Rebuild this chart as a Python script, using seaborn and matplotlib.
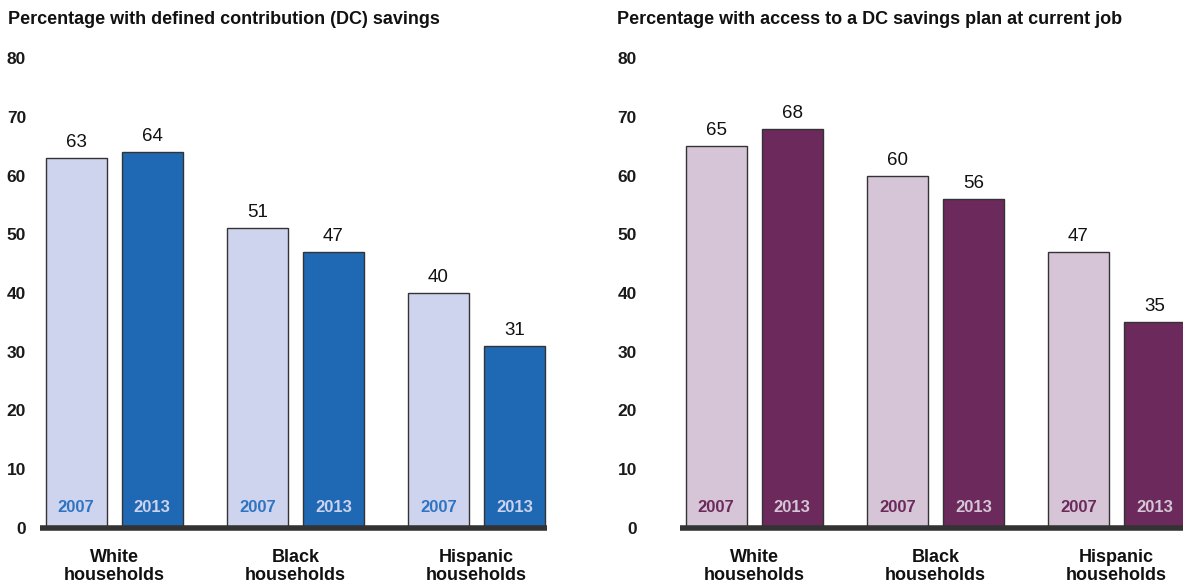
import matplotlib
matplotlib.use("Agg")
import matplotlib.pyplot as plt
import seaborn as sns
import pandas as pd

groups = ["White\nhouseholds", "Black\nhouseholds", "Hispanic\nhouseholds"]
years = ["2007", "2013"]
dc_savings_2007 = [63, 51, 40]
dc_savings_2013 = [64, 47, 31]
dc_access_2007 = [65, 60, 47]
dc_access_2013 = [68, 56, 35]

titles = ["Percentage with defined contribution (DC) savings",
          "Percentage with access to a DC savings plan at current job"]
yticks = [0, 10, 20, 30, 40, 50, 60, 70, 80]


def long_frame(v2007, v2013):
    rows = []
    for g, a, b in zip(groups, v2007, v2013):
        rows.append({"group": g, "year": "2007", "value": a})
        rows.append({"group": g, "year": "2013", "value": b})
    return pd.DataFrame(rows)


sns.set_theme(style="white")
plt.rcParams["font.family"] = ["Liberation Sans", "DejaVu Sans"]

fig = plt.figure(figsize=(11.83, 5.84), dpi=100)

panels = [
    dict(df=long_frame(dc_savings_2007, dc_savings_2013),
         rect=[40 / 1183, 56 / 584, 507 / 1183, 470 / 584],
         palette=["#CFD4EE", "#1F69B4"],
         year_colors=["#2E74C2", "#CDD2EE"],
         tick_pad=10, title_x=8 / 1183),
    dict(df=long_frame(dc_access_2007, dc_access_2013),
         rect=[680 / 1183, 56 / 584, 507 / 1183, 470 / 584],
         palette=["#D6C5D6", "#6B2A5B"],
         year_colors=["#6B2A5B", "#D6C5D6"],
         tick_pad=31, title_x=617 / 1183),
]

for p, title in zip(panels, titles):
    ax = fig.add_axes(p["rect"])
    sns.barplot(data=p["df"], x="group", y="value", hue="year",
                hue_order=years, palette=p["palette"], width=0.84, gap=0.2,
                edgecolor="#333333", linewidth=1.0, saturation=1,
                legend=False, ax=ax)
    ax.set_xlim(-0.41, 2.39)
    ax.set_ylim(0, 80)
    ax.set_yticks(yticks)
    ax.set_yticklabels([str(t) for t in yticks], fontsize=12.5,
                       fontweight="bold", color="#1a1a1a")
    ax.tick_params(axis="y", length=0, pad=p["tick_pad"])
    ax.tick_params(axis="x", length=0, pad=15)
    for lbl in ax.get_xticklabels():
        lbl.set_fontweight("bold")
        lbl.set_fontsize(13)
        lbl.set_color("#111111")
        lbl.set_linespacing(1.1)
    ax.set_xlabel("")
    ax.set_ylabel("")
    for s in ax.spines.values():
        s.set_visible(False)
    ax.axhline(0, color="#333333", linewidth=4, zorder=5, clip_on=False,
               solid_capstyle="butt")

    for cont in ax.containers:
        ax.bar_label(cont, fmt="%d", padding=5, fontsize=13.5, color="#111111")
    for cont, yr, ycol in zip(ax.containers, years, p["year_colors"]):
        for bar in cont:
            ax.text(bar.get_x() + bar.get_width() / 2, 3.5, yr,
                    ha="center", va="center", fontsize=12, fontweight="bold",
                    color=ycol, zorder=6)

    fig.text(p["title_x"], 1 - 20 / 584, title, fontsize=13,
             fontweight="bold", color="#111111", ha="left", va="center")

fig.savefig("out.png", dpi=100)
